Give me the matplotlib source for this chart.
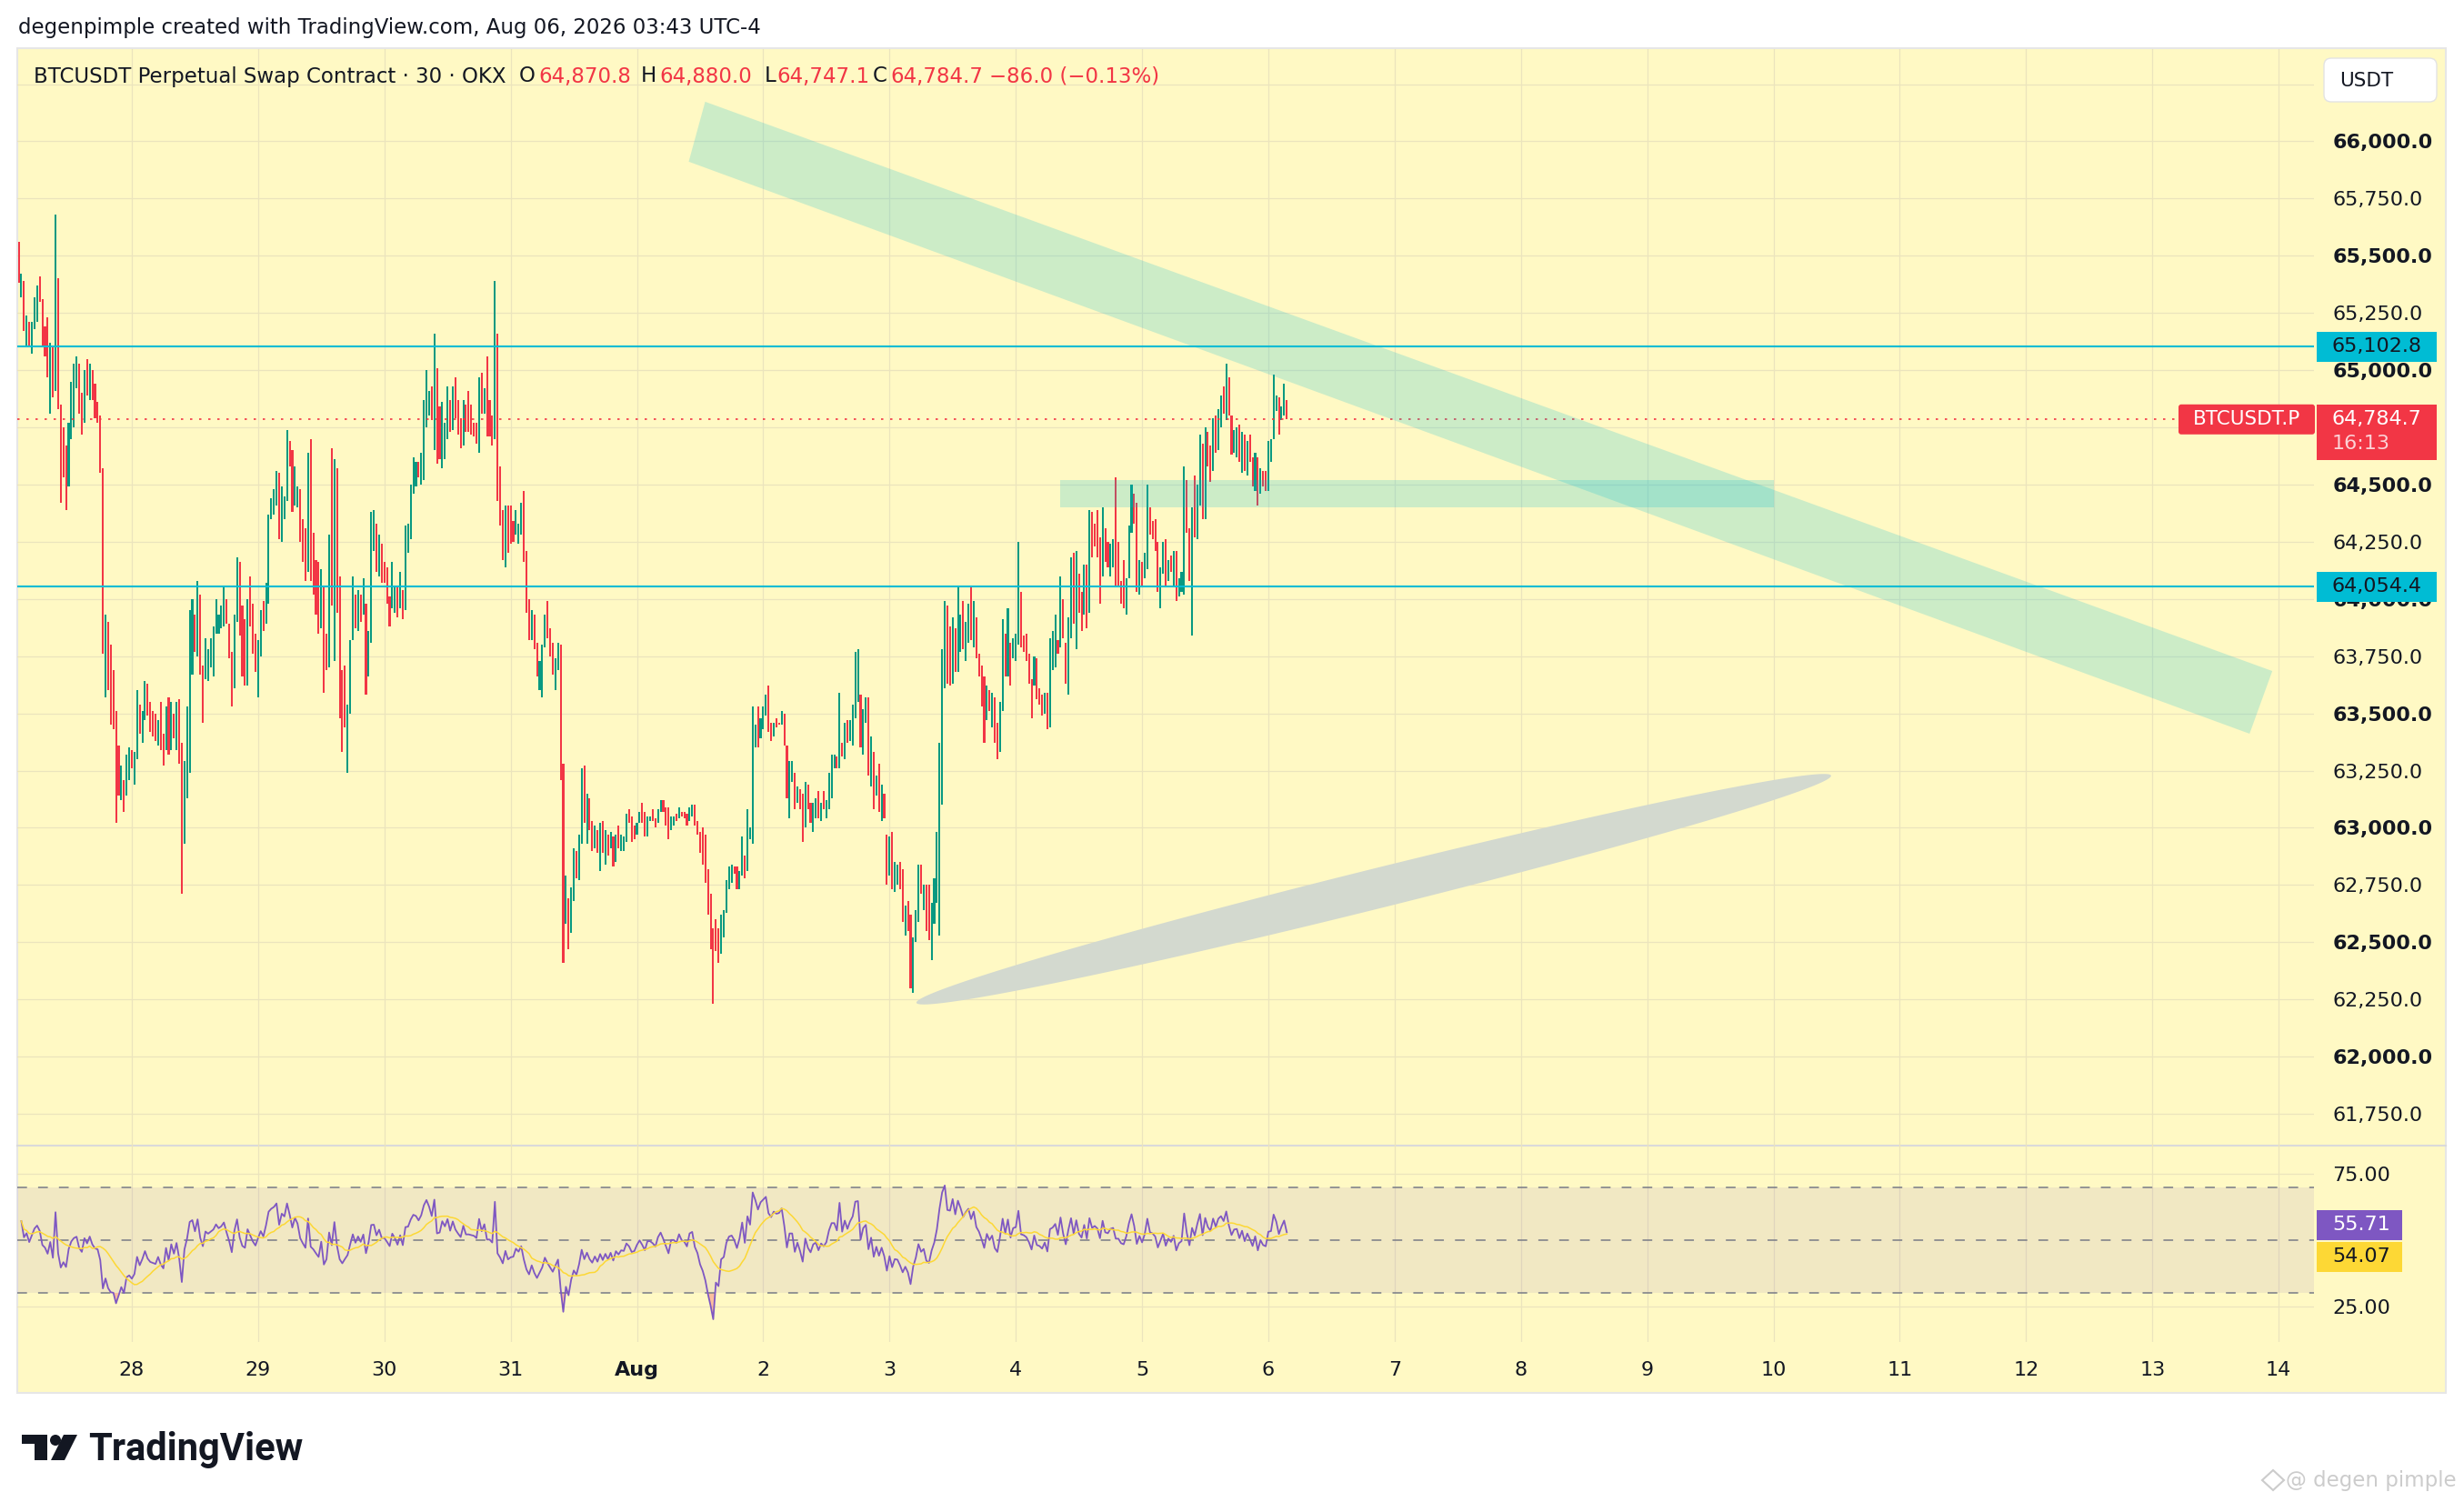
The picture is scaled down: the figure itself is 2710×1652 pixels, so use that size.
import numpy as np
import pandas as pd
import matplotlib
matplotlib.use("Agg")
import matplotlib.pyplot as plt
from matplotlib.patches import Rectangle, Polygon, FancyBboxPatch, Circle

plt.rcParams['font.family'] = ['DejaVu Sans']

# ---- data: 30 min candles, Jul 27 02:30 -> Aug 6 03:30 (bar ends)
opens = [
    # Jul 27 / 28
    65560, 65320, 65390, 65100, 65210, 65070, 65180, 65210, 65410, 65310, 65190, 65230,
    64810, 65100, 64910, 65400, 64850, 64750, 64670, 64490, 64700, 64750, 64920, 65030,
    64900, 64770, 65050, 64870, 65000, 64940, 64860, 64800, 64570, 63570, 63900, 63800,
    63690, 63510, 63360, 63120, 63210, 63140, 63210, 63340, 63190, 63300, 63540, 63370,
    63470, 63630, 63550, 63510, 63500, 63360, 63550, 63410, 63340, 63570, 63340, 63500,
    63340, 63560, 63370, 62930, 63130, 63240, 63670, 63930, 63750, 64020, 63710, 63650,
    63640, 63700, 63660, 63850, 63850, 63870, 63880, 64000, 63890, 63770, 63610, 63900,
    64160, 63970, 63910, 63620, 64100, 63980, 63850, 63570, 63750, 63990, 63890, 63980,
    64350, 64370, 64410,
    # Jul 29 / 30
    64550, 64250, 64350, 64430, 64690, 64650, 64410, 64400, 64480, 64350, 64310, 64120,
    64700, 64290, 64170, 64160, 63870, 64060, 63850, 63700, 64660, 63730, 64570, 64100,
    63690, 63710, 63240, 63500, 63820, 64020, 63860, 64020, 63930, 63980, 63660, 63810,
    64210, 64330, 64100, 64240, 64160, 64140, 64010, 63960, 63940, 64060, 63960, 64040,
    63950, 64200, 64260, 64460, 64490, 64600, 64500, 64520, 64750, 64800, 64930, 64650,
    65010, 64840, 64570, 64610, 64700, 64870, 64740, 64970, 64870, 64790, 64670, 64850,
    64910, 64850, 64770, 64770, 64640, 64990, 64810, 65060, 64870, 64800, 64700, 65160,
    64580, 64390, 64140, 64410, 64410, 64340, 64280, 64240, 64280, 64470, 64210,
    # Jul 31 / Aug 1
    64000, 63820, 63930, 63810, 63600, 63570, 63790, 63990, 63870, 63810, 63600, 63690,
    63800, 63280, 62580, 62690, 62540, 62680, 62900, 62770, 62930, 63270, 62930, 63130,
    63030, 62910, 62990, 62810, 63030, 62840, 62970, 62910, 62960, 62850, 63010, 62900,
    62900, 62940, 63080, 63050, 63010, 62970, 63020, 63110, 63070, 62960, 63030, 63080,
    63040, 63020, 63070, 63120, 63090, 63090, 62990, 63010, 63060, 63040, 63070, 63070,
    63060, 63030, 63050, 63100, 63030, 62980, 63000, 62970, 62820, 62710, 62560, 62600,
    62560, 62450, 62520, 62630, 62730, 62760, 62830, 62830, 62730, 62790, 62880, 62810,
    62950, 62930, 63350, 63530, 63390, 63430, 63490, 63620, 63460, 63400, 63480, 63460,
    # Aug 2 / 3
    63450, 63500, 63360, 63040, 63200, 63240, 63110, 63170, 63150, 63000, 63190, 63110,
    62980, 63040, 63160, 63030, 63160, 63040, 63080, 63130, 63260, 63310, 63260, 63370,
    63300, 63470, 63380, 63360, 63480, 63550, 63580, 63320, 63460, 63570, 63180, 63330,
    63140, 63280, 63030, 63150, 62970, 62790, 62980, 62720, 62750, 62850, 62820, 62530,
    62680, 62620, 62280, 62500, 62590, 62840, 62640, 62750, 62750, 62420, 62580, 62670,
    62530, 63100, 63610, 63970, 63880, 63630, 63870, 63680, 63770, 63990, 63730, 63810,
    64050, 63790, 63920, 63760, 63710, 63660, 63470, 63600, 63440, 63570, 63460, 63330,
    63510, 63850, 63660, 63810, 63740, 63730, 63800, 64030, 63840, 63850,
    # Aug 4 / 5 / 6
    63760, 63650, 63620, 63740, 63610, 63580, 63500, 63590, 63440, 63690, 63700, 63820,
    63790, 64000, 63810, 63580, 63830, 64200, 63780, 64110, 64030, 63930, 64150, 63940,
    64380, 64330, 64390, 64270, 64100, 64310, 64250, 64100, 64140, 64530, 64250, 64080,
    64170, 63930, 64090, 64290, 64460, 64420, 64020, 64160, 64090, 64130, 64400, 64340,
    64350, 64250, 63960, 64110, 64260, 64080, 64190, 64060, 64210, 64010, 64030, 64020,
    64520, 64310, 63840, 64540, 64260, 64410, 64680, 64350, 64730, 64670, 64560, 64800,
    64650, 64750, 64930, 64780, 64970, 64800, 64640, 64620, 64760, 64550, 64720, 64540,
    64720, 64620, 64470, 64620, 64460, 64560, 64560, 64470, 64600, 64700, 64820, 64880,
    64780, 64800, 64870.8,
]
closes = [
    # Jul 27 / 28
    65380, 65420, 65170, 65240, 65100, 65210, 65320, 65370, 65300, 65100, 65060, 64970,
    65120, 64880, 65680, 64830, 64420, 64530, 64390, 64770, 64950, 65030, 65060, 64810,
    64720, 65000, 64890, 65030, 64870, 64790, 64770, 64550, 63760, 63930, 63600, 63450,
    63430, 63020, 63140, 63270, 63070, 63320, 63350, 63260, 63330, 63600, 63410, 63510,
    63640, 63490, 63420, 63400, 63380, 63470, 63340, 63270, 63530, 63320, 63550, 63390,
    63550, 63280, 62710, 63290, 63530, 63950, 64000, 63770, 64080, 63670, 63460, 63830,
    63780, 63830, 63880, 64000, 63930, 63970, 64050, 63890, 63740, 63530, 63930, 64180,
    63840, 63660, 63620, 64000, 63880, 63760, 63680, 63820, 63950, 63860, 64070, 64370,
    64440, 64480, 64560,
    # Jul 29 / 30
    64260, 64490, 64450, 64740, 64580, 64380, 64580, 64490, 64250, 64160, 64080, 64640,
    64080, 64020, 63930, 63850, 64130, 63590, 63690, 64280, 63970, 64610, 63940, 63480,
    63330, 63440, 63540, 63820, 64100, 63870, 64040, 63900, 64090, 63580, 63860, 64380,
    64390, 64120, 64280, 64070, 64070, 63980, 63880, 64160, 64060, 63920, 64120, 63910,
    64320, 64330, 64500, 64620, 64600, 64530, 64640, 64870, 65000, 64910, 64780, 65160,
    64590, 64610, 64860, 64770, 64930, 64730, 64930, 64790, 64720, 64660, 64870, 64730,
    64730, 64720, 64710, 64680, 64970, 64810, 64920, 64710, 64710, 64670, 65390, 64430,
    64320, 64170, 64410, 64200, 64240, 64250, 64390, 64330, 64420, 64160, 63940,
    # Jul 31 / Aug 1
    63820, 63950, 63780, 63660, 63730, 63800, 63930, 63830, 63750, 63670, 63740, 63810,
    63210, 62410, 62790, 62470, 62740, 62910, 62780, 62970, 63260, 63020, 63150, 62990,
    62900, 63010, 62890, 63020, 62890, 62990, 62880, 62980, 62830, 62970, 62910, 62970,
    62960, 63060, 63020, 62940, 62950, 63020, 63070, 63020, 62960, 63050, 63050, 63030,
    63000, 63080, 63120, 63070, 63010, 62950, 63050, 63050, 63030, 63090, 63050, 63040,
    63010, 63090, 63100, 63010, 62970, 62890, 62840, 62760, 62620, 62470, 62230, 62460,
    62410, 62620, 62640, 62770, 62830, 62840, 62800, 62730, 62810, 62960, 62780, 63080,
    63000, 63530, 63450, 63350, 63480, 63530, 63580, 63420, 63380, 63460, 63440, 63450,
    # Aug 2 / 3
    63510, 63360, 63130, 63290, 63290, 63080, 63180, 63080, 62940, 63200, 63080, 63020,
    63110, 63130, 63040, 63110, 63080, 63120, 63240, 63320, 63320, 63260, 63590, 63310,
    63460, 63370, 63470, 63540, 63770, 63780, 63350, 63520, 63570, 63230, 63400, 63080,
    63230, 63070, 63190, 63040, 62750, 62960, 62730, 62850, 62840, 62730, 62590, 62660,
    62550, 62300, 62520, 62640, 62840, 62710, 62750, 62550, 62510, 62670, 62780, 62980,
    63370, 63780, 63990, 63630, 63620, 63920, 63680, 64050, 63930, 63780, 63900, 63980,
    63820, 63990, 63740, 63660, 63530, 63370, 63620, 63510, 63590, 63370, 63300, 63550,
    63910, 63660, 63960, 63620, 63830, 63850, 64250, 63790, 63770, 63730,
    # Aug 4 / 5 / 6
    63630, 63480, 63750, 63560, 63540, 63490, 63590, 63430, 63830, 63860, 63930, 63760,
    64100, 63830, 63630, 63920, 64180, 63890, 64210, 63940, 63860, 64150, 63870, 64390,
    64180, 64230, 64180, 63980, 64400, 64160, 64140, 64240, 64260, 64060, 64060, 63980,
    63960, 64090, 64320, 64500, 64330, 64030, 64170, 64060, 64200, 64500, 64280, 64260,
    64210, 64030, 64140, 64250, 64060, 64170, 64120, 64210, 63990, 64090, 64120, 64580,
    64290, 64080, 64400, 64270, 64500, 64720, 64350, 64750, 64580, 64510, 64790, 64640,
    64830, 64890, 64810, 65030, 64800, 64630, 64740, 64750, 64600, 64730, 64560, 64690,
    64600, 64490, 64640, 64410, 64570, 64490, 64470, 64690, 64700, 64980, 64890, 64720,
    64840, 64940, 64784.7,
]
candles_before_jul28 = 43          # first candle is Jul 27 02:30
day_labels = ['28', '29', '30', '31', 'Aug', '2', '3', '4', '5', '6', '7',
              '8', '9', '10', '11', '12', '13', '14']
price_ticks = np.arange(61750, 66251, 250)
hidden_ticks = [66250, 64750]      # covered by the USDT button / last price tag
rsi_ticks = [25, 75]
level_high = 65102.8
level_low = 64054.4
last_price = 64784.7
rsi_last, rsi_ma_last = 55.71, 54.07
header = "degenpimple created with TradingView.com, Aug 06, 2026 03:43 UTC-4"

# ---- colours
BG = '#fff9c4'
GRID = '#ebe4bd'
UP, DN = '#089981', '#f23645'
CYAN = '#00bcd4'
PURPLE = '#7e57c2'
YELLOW = '#fdd835'
TXT = '#131722'

W, H = 2710, 1652
fig = plt.figure(figsize=(W / 100, H / 100), dpi=100)
fig.patch.set_facecolor('white')

# background layer in pixel coordinates
bg = fig.add_axes([0, 0, 1, 1], zorder=0)
bg.set_xlim(0, W); bg.set_ylim(H, 0); bg.axis('off')
bg.add_patch(Rectangle((19, 53), 2671, 1479, facecolor=BG, edgecolor='#e6e6e6', lw=1.5))
bg.plot([19, 2690], [1260, 1260], color='#dadada', lw=1.5)

ax = fig.add_axes([19 / W, (H - 1260) / H, 2526 / W, (1260 - 54) / H], zorder=1)
rax = fig.add_axes([19 / W, (H - 1476) / H, 2526 / W, (1476 - 1260) / H], zorder=1)
for a in (ax, rax):
    a.patch.set_alpha(0)
    for s in a.spines.values():
        s.set_visible(False)
    a.set_axisbelow(True)
    a.set_xlim(-0.907, 17.28)
    a.set_xticks(range(len(day_labels)))
    a.grid(True, color=GRID, lw=0.9)
    a.tick_params(length=0)

# ---- main pane
n = len(closes)
x = (np.arange(n) - candles_before_jul28) / 48.0
o = np.asarray(opens, float)
c = np.asarray(closes, float)
up = c >= o
ax.bar(x, np.maximum(np.abs(c - o), 8), bottom=np.minimum(o, c), width=0.72 / 48,
       color=np.where(up, UP, DN), linewidth=0, zorder=3)

ax.set_ylim(61611, 66403)
ax.set_yticks(price_ticks)
ax.yaxis.tick_right()
ax.set_yticklabels(['' if v in hidden_ticks else f"{v:,.1f}" for v in price_ticks])
ax.tick_params(axis='y', pad=14.5, labelsize=16, labelcolor=TXT)
for lab, v in zip(ax.get_yticklabels(), price_ticks):
    if v % 500 == 0:
        lab.set_fontweight('bold')
ax.set_xticklabels([])

ax.axhline(level_high, color=CYAN, lw=1.5, zorder=4)
ax.axhline(level_low, color=CYAN, lw=1.5, zorder=4)
ax.axhline(last_price, color=DN, lw=1.2, ls=(0, (1.5, 4.5)), zorder=4)

# drawings: falling channel, horizontal zone, ellipse
ax.add_patch(Polygon([(4.54, 66173), (16.95, 63685), (16.77, 63411), (4.41, 65911)],
                     closed=True, facecolor=CYAN, alpha=0.2, lw=0, zorder=5))
ax.add_patch(Rectangle((7.35, 64400), 13.0 - 7.35, 120, facecolor=CYAN, alpha=0.2, lw=0, zorder=5))
tip_a = ax.transData.transform((6.213, 62235))
tip_b = ax.transData.transform((13.456, 63228))
cen = (tip_a + tip_b) / 2
major = (tip_b - tip_a) / 2
minor = np.array([-major[1], major[0]]) / np.hypot(*major) * 22
th = np.linspace(0, 2 * np.pi, 200)
pts = cen + np.outer(np.cos(th), major) + np.outer(np.sin(th), minor)
ax.add_patch(Polygon(ax.transData.inverted().transform(pts), closed=True,
                     facecolor='#d3d9cf', lw=0, zorder=5))

# ---- RSI pane
delta = np.diff(c)
gain = np.clip(delta, 0, None)
loss = np.clip(-delta, 0, None)
def rma(v, length=14):
    out = np.empty_like(v)
    prev = v[:length].mean()
    for i, val in enumerate(v):
        prev = (prev * (length - 1) + val) / length
        out[i] = prev
    return out
ag, al = rma(gain), rma(loss)
rsi = np.r_[np.nan, 100 - 100 / (1 + ag / al)]
rsi_ma = pd.Series(rsi).rolling(14, min_periods=1).mean().values

rax.set_ylim(11.43, 85.65)
rax.set_yticks(rsi_ticks)
rax.yaxis.tick_right()
rax.set_yticklabels([f"{v:.2f}" for v in rsi_ticks])
rax.tick_params(axis='y', pad=14.5, labelsize=16, labelcolor=TXT)
rax.axhspan(30, 70, color=PURPLE, alpha=0.1, lw=0)
for lvl in (70, 50, 30):
    rax.axhline(lvl, color='#787b86', lw=1.1, ls=(0, (7, 8)), zorder=2)
rax.fill_between(x, rsi, 70, where=rsi > 70, interpolate=True, color='#4caf50', alpha=0.25, lw=0)
rax.fill_between(x, rsi, 30, where=rsi < 30, interpolate=True, color='#f23645', alpha=0.3, lw=0)
rax.plot(x, rsi, color=PURPLE, lw=1.3, zorder=4)
rax.plot(x, rsi_ma, color=YELLOW, lw=1.1, zorder=4)
rax.set_xticklabels(day_labels)
rax.tick_params(axis='x', pad=15, labelsize=16, labelcolor=TXT)
for lab in rax.get_xticklabels():
    if lab.get_text() == 'Aug':
        lab.set_fontweight('bold')

# ---- top layer: texts and price labels (pixel coordinates)
top = fig.add_axes([0, 0, 1, 1], zorder=10)
top.set_xlim(0, W); top.set_ylim(H, 0); top.axis('off'); top.patch.set_alpha(0)

def ypix(a, v):
    return H - a.transData.transform((0, v))[1]

FS = 16.5
top.text(20, 31, header, fontsize=FS, color=TXT, va='center')
ly = 84
top.text(37, ly, "BTCUSDT Perpetual Swap Contract · 30 · OKX", fontsize=FS, color=TXT, va='center')
for lx, key, vx, val in [(571, 'O', 592, '64,870.8'), (705, 'H', 725, '64,880.0'),
                         (841, 'L', 854, '64,747.1'), (960, 'C', 979, '64,784.7')]:
    top.text(lx, ly, key, fontsize=FS, color=TXT, va='center')
    top.text(vx, ly, val, fontsize=FS, color=DN, va='center')
top.text(1088, ly, "−86.0 (−0.13%)", fontsize=FS, color=DN, va='center')

top.add_patch(FancyBboxPatch((2556, 64), 124, 48, boxstyle='round,pad=0,rounding_size=8',
                             facecolor='white', edgecolor='#e3e3e3', lw=1))
top.text(2573, 89, "USDT", fontsize=15.5, color=TXT, va='center')

for lvl, txt in [(level_high, '65,102.8'), (level_low, '64,054.4')]:
    yy = ypix(ax, lvl)
    top.add_patch(Rectangle((2548, yy - 16.5), 132, 33, facecolor=CYAN, lw=0))
    top.text(2565, yy, txt, fontsize=16, color=TXT, va='center')

yy = ypix(ax, last_price)
top.add_patch(Rectangle((2548, yy - 16.5), 132, 61, facecolor=DN, lw=0))
top.text(2565, yy, '64,784.7', fontsize=16, color='white', va='center')
top.text(2565, yy + 27, '16:13', fontsize=16, color='#fcd2d6', va='center')
top.add_patch(FancyBboxPatch((2396, yy - 16.5), 150, 33, boxstyle='round,pad=0,rounding_size=3',
                             facecolor=DN, lw=0))
top.text(2471, yy, 'BTCUSDT.P', fontsize=15.5, color='white', va='center', ha='center')

yr = ypix(rax, rsi_last)
top.add_patch(Rectangle((2548, yr - 16.5), 94, 33, facecolor=PURPLE, lw=0))
top.text(2565, yr, f"{rsi_last:.2f}", fontsize=16, color='white', va='center')
top.add_patch(Rectangle((2548, yr + 18.5), 94, 33, facecolor=YELLOW, lw=0))
top.text(2565, yr + 35, f"{rsi_ma_last:.2f}", fontsize=16, color=TXT, va='center')

# footer: TradingView logo and watermark
top.add_patch(Rectangle((24, 1578), 28, 10, facecolor=TXT, lw=0))
top.add_patch(Rectangle((38, 1578), 14, 28, facecolor=TXT, lw=0))
top.add_patch(Circle((61, 1584), 6, facecolor=TXT, lw=0))
top.add_patch(Polygon([(70, 1578), (85, 1578), (71, 1606), (56, 1606)], facecolor=TXT, lw=0))
top.text(97, 1606, "TradingView", fontsize=30, fontfamily='Roboto', fontweight='bold',
         color=TXT, va='baseline')
top.text(2702, 1628, "@ degen pimple", fontsize=16.5, color='#cccccc', va='center', ha='right')
top.add_patch(Polygon([(2500, 1617), (2512, 1628), (2500, 1639), (2488, 1628)],
                      facecolor='none', edgecolor='#cccccc', lw=1.5))

fig.savefig('out.png', dpi=100, facecolor='white')
